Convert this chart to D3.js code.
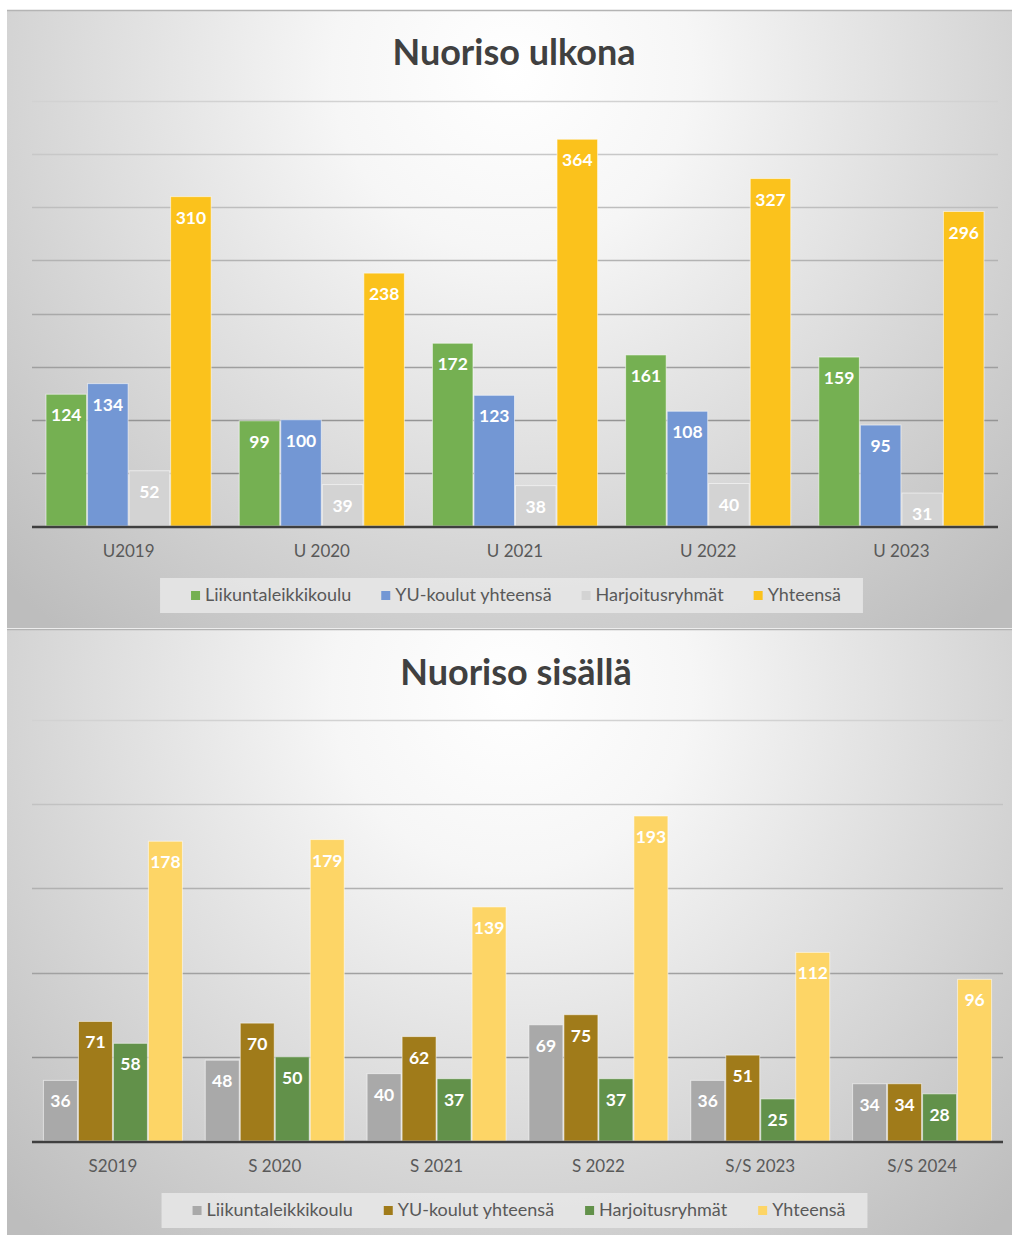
<!DOCTYPE html>
<html>
<head>
<meta charset="utf-8">
<script src="https://cdn.jsdelivr.net/npm/d3@7"></script>
<style>
  html, body { margin: 0; padding: 0; background: #ffffff; }
  svg { display: block; }
  text { font-family: Lato, "Open Sans", sans-serif; }
</style>
</head>
<body>
<svg id="chart" width="1012" height="1235"></svg>
<script>
// ---------- DATA ----------
const seriesNames = ["Liikuntaleikkikoulu", "YU-koulut yhteensä", "Harjoitusryhmät", "Yhteensä"];

const outCategories = ["U2019", "U 2020", "U 2021", "U 2022", "U 2023"];
const outLiikunta = [124, 99, 172, 161, 159];
const outYU = [134, 100, 123, 108, 95];
const outHarjoitus = [52, 39, 38, 40, 31];
const outYhteensa = [310, 238, 364, 327, 296];
const outTicks = [0, 50, 100, 150, 200, 250, 300, 350, 400];

const inCategories = ["S2019", "S 2020", "S 2021", "S 2022", "S/S 2023", "S/S 2024"];
const inLiikunta = [36, 48, 40, 69, 36, 34];
const inYU = [71, 70, 62, 75, 51, 34];
const inHarjoitus = [58, 50, 37, 37, 25, 28];
const inYhteensa = [178, 179, 139, 193, 112, 96];
const inTicks = [0, 50, 100, 150, 200, 250];

const outColors = ["#75b052", "#7397d4", "#d3d3d3", "#fbc21c"];
const inColors = ["#a9a9a9", "#a07b1a", "#62914a", "#fdd566"];

// ---------- DRAW ----------
const svg = d3.select("#chart");
const defs = svg.append("defs");

function makeGrad(id, cx, cy, r) {
  const g = defs.append("radialGradient").attr("id", id)
    .attr("gradientUnits", "userSpaceOnUse")
    .attr("cx", cx).attr("cy", cy).attr("r", r);
  g.append("stop").attr("offset", "0").attr("stop-color", "#ffffff");
  g.append("stop").attr("offset", "0.25").attr("stop-color", "#f6f6f6");
  g.append("stop").attr("offset", "1").attr("stop-color", "#bdbdbd");
}
makeGrad("bg1", 512, 70, 720);
makeGrad("bg2", 512, 690, 720);

function drawChart(cfg) {
  const g = svg.append("g");
  // panel
  g.append("rect").attr("x", cfg.panel.x).attr("y", cfg.panel.y)
    .attr("width", cfg.panel.w).attr("height", cfg.panel.h)
    .attr("fill", "url(#" + cfg.grad + ")");
  g.append("line").attr("x1", cfg.panel.x).attr("x2", cfg.panel.x + cfg.panel.w)
    .attr("y1", cfg.panel.y + 0.5).attr("y2", cfg.panel.y + 0.5)
    .attr("stroke", "#b4b4b4").attr("stroke-width", 1.5);

  // title
  g.append("text").attr("x", cfg.titleX).attr("y", cfg.titleY)
    .attr("text-anchor", "middle").attr("font-size", 36).attr("font-weight", 700)
    .attr("fill", "#404040").text(cfg.title);

  const y = d3.scaleLinear().domain([0, cfg.ticks[cfg.ticks.length - 1]])
    .range([cfg.plot.bottom, cfg.plot.top]);
  const x0 = d3.scaleBand().domain(cfg.categories)
    .range([cfg.plot.left, cfg.plot.right])
    .paddingInner(cfg.pad).paddingOuter(cfg.pad / 2);
  const x1 = d3.scaleBand().domain(d3.range(cfg.series.length))
    .range([0, x0.bandwidth()]);

  const maxT = cfg.ticks[cfg.ticks.length - 1];
  const gridCol = d3.interpolateRgb("#d2d2d2", "#808080");

  // gridlines
  g.append("g").selectAll("line").data(cfg.ticks.filter(t => t > 0)).join("line")
    .attr("x1", cfg.plot.left).attr("x2", cfg.plot.right)
    .attr("y1", d => Math.round(y(d)) + 0.5).attr("y2", d => Math.round(y(d)) + 0.5)
    .attr("stroke", d => gridCol(1 - d / maxT)).attr("stroke-width", 1.3);

  // bars
  const groups = g.append("g").selectAll("g").data(cfg.categories).join("g")
    .attr("transform", d => `translate(${x0(d)},0)`);

  groups.each(function(cat, ci) {
    const gg = d3.select(this);
    cfg.series.forEach((s, si) => {
      const v = s[ci];
      const bx = x1(si) + 0.5;
      const bw = x1.bandwidth() - 1;
      gg.append("rect")
        .attr("x", bx).attr("y", y(v))
        .attr("width", bw).attr("height", y(0) - y(v))
        .attr("fill", cfg.colors[si])
        .attr("stroke", "rgba(255,255,255,0.55)").attr("stroke-width", 1);
      gg.append("text")
        .attr("x", x1(si) + x1.bandwidth() / 2).attr("y", y(v) + 27)
        .attr("text-anchor", "middle").attr("font-size", 17.5).attr("font-weight", 700)
        .attr("fill", "#ffffff").text(v);
    });
  });

  // baseline
  g.append("line").attr("x1", cfg.plot.left).attr("x2", cfg.plot.right)
    .attr("y1", y(0) + 1).attr("y2", y(0) + 1)
    .attr("stroke", "#3f3f3f").attr("stroke-width", 2.5);

  // x axis labels
  const xAxis = d3.axisBottom(x0).tickSize(0).tickPadding(0);
  const ax = g.append("g").attr("transform", `translate(0,${y(0)})`).call(xAxis);
  ax.select(".domain").remove();
  ax.selectAll("text").attr("y", cfg.catDy).attr("dy", 0)
    .attr("font-size", 17).attr("fill", "#595959")
    .style("font-family", "Lato, 'Open Sans', sans-serif");

  // legend
  const lg = g.append("g");
  const lbg = lg.append("rect").attr("fill", "rgba(232,232,232,0.85)");
  const items = [];
  let cx = 0;
  seriesNames.forEach((n, i) => {
    const it = lg.append("g");
    it.append("rect").attr("x", 0).attr("y", -10).attr("width", 9).attr("height", 9)
      .attr("fill", cfg.colors[i]);
    const t = it.append("text").attr("x", 14).attr("y", 0)
      .attr("font-size", 18).attr("fill", "#595959").text(n);
    const w = 14 + t.node().getComputedTextLength();
    items.push({ it, x: cx, w });
    cx += w + cfg.legendGap;
  });
  const total = cx - cfg.legendGap;
  const startX = cfg.legendCenter - total / 2;
  items.forEach(o => o.it.attr("transform", `translate(${startX + o.x},${cfg.legendY})`));
  lbg.attr("x", startX - 31).attr("y", cfg.legendY - 23)
    .attr("width", total + 53).attr("height", 35);
}

drawChart({
  panel: { x: 7, y: 10, w: 1005, h: 618 },
  grad: "bg1",
  title: "Nuoriso ulkona",
  titleX: 514, titleY: 65,
  plot: { left: 32, right: 998, top: 101, bottom: 526 },
  pad: 0.14,
  categories: outCategories,
  series: [outLiikunta, outYU, outHarjoitus, outYhteensa],
  colors: outColors,
  ticks: outTicks,
  catDy: 31,
  legendCenter: 516, legendY: 601, legendGap: 30
});

drawChart({
  panel: { x: 7, y: 629, w: 1005, h: 606 },
  grad: "bg2",
  title: "Nuoriso sisällä",
  titleX: 516, titleY: 685,
  plot: { left: 32, right: 1003, top: 720, bottom: 1141 },
  pad: 0.135,
  categories: inCategories,
  series: [inLiikunta, inYU, inHarjoitus, inYhteensa],
  colors: inColors,
  ticks: inTicks,
  catDy: 31,
  legendCenter: 519, legendY: 1216, legendGap: 31
});
</script>
</body>
</html>
